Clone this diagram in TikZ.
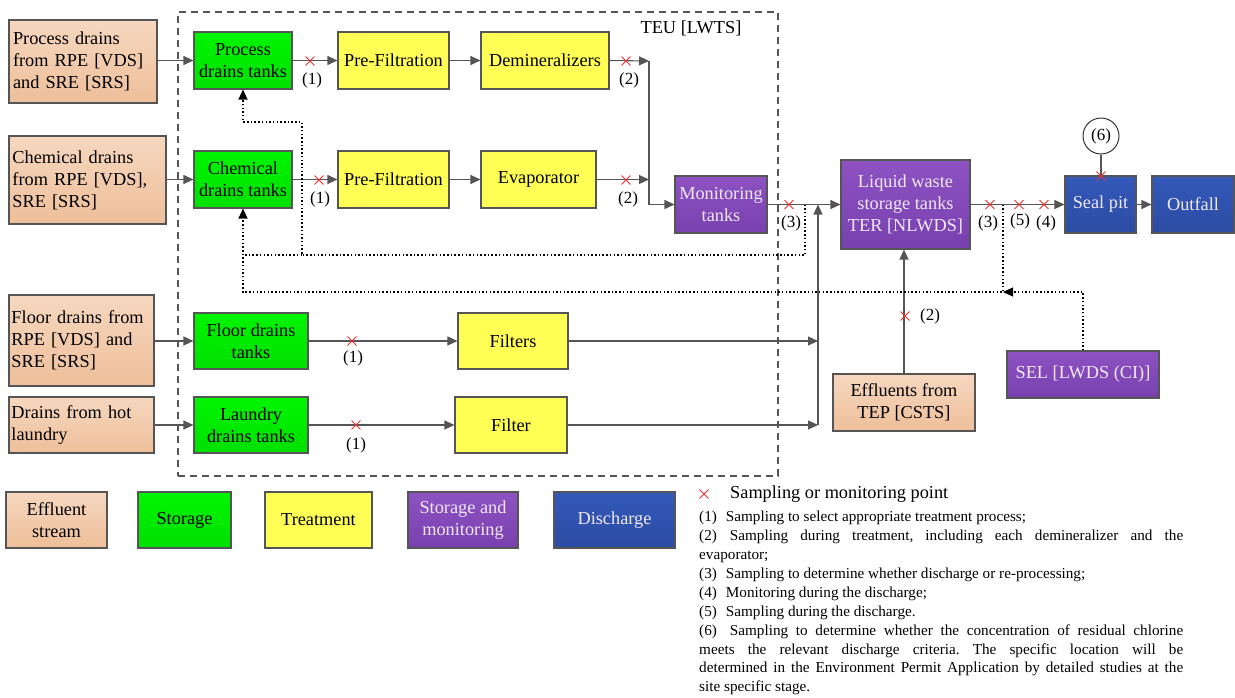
\documentclass[tikz,border=0pt]{standalone}
\usepackage{fontspec}
\setmainfont{Liberation Serif}
\usetikzlibrary{arrows.meta,shapes.misc,calc}
\definecolor{peachT}{HTML}{F6D7BF}
\definecolor{peachB}{HTML}{EEBF9A}
\definecolor{grnT}{HTML}{00F500}
\definecolor{grnB}{HTML}{00E000}
\definecolor{yel}{HTML}{FFFF55}
\definecolor{purT}{HTML}{8E52C2}
\definecolor{purB}{HTML}{7840AE}
\definecolor{bluT}{HTML}{3459BA}
\definecolor{bluB}{HTML}{2C4BA2}
\definecolor{edge}{HTML}{555555}
\definecolor{lav}{HTML}{EFE8F7}
\definecolor{xred}{HTML}{F03030}
\newcommand\mybox[7]{\node[#1, minimum width={#5-#3}, minimum height={#6-#4}] (#2) at ({(#3+#5)/2},{(#4+#6)/2}) {#7};}
\tikzset{
  x=1pt, y=-1pt,
  box/.style={draw=edge, line width=1.1pt, inner sep=2pt, align=center},
  src/.style={box, top color=peachT, bottom color=peachB},
  srcl/.style={src, align=left, text width=#1},
  stor/.style={box, top color=grnT, bottom color=grnB},
  treat/.style={box, fill=yel},
  mon/.style={box, top color=purT, bottom color=purB, text=lav},
  dis/.style={box, top color=bluT, bottom color=bluB, text=lav},
  arr/.style={draw=edge, line width=1.1pt, -{Triangle[length=10pt,width=9pt]}},
  ln/.style={draw=edge, line width=1.1pt},
  dot/.style={draw=black, line width=1.2pt, dash pattern=on 1.5pt off 2.2pt},
  dotarr/.style={dot, -{Triangle[length=10pt,width=9pt]}},
  xm/.style={draw=xred, cross out, minimum size=8pt, inner sep=0pt, line width=0.9pt},
  lbl/.style={inner sep=0pt, font=\fontsize{17}{20}\selectfont},
}
\begin{document}
\frenchspacing
\begin{tikzpicture}[font=\fontsize{18.3}{22}\selectfont]
\useasboundingbox (0,0) rectangle (1235,697);
% TEU frame
\node[draw=edge, line width=1.2pt, dash pattern=on 7pt off 5pt, minimum width=600, minimum height=464, inner sep=0pt] (teu) at (478,244) {};
\node[inner sep=0pt] (teulbl) at (691,28) {TEU [LWTS]};
% sources
\mybox{srcl=140pt}{s1}{9}{20}{157}{103}{Process drains\\from RPE [VDS]\\and SRE [SRS]}
\mybox{srcl=150pt}{s2}{9}{136}{166}{224}{Chemical drains\\from RPE [VDS],\\SRE [SRS]}
\mybox{srcl=140pt}{s3}{9}{295}{154}{386}{Floor drains from\\RPE [VDS] and\\SRE [SRS]}
\mybox{srcl=140pt}{s4}{9}{397}{154}{453}{Drains from hot\\laundry}
% storage
\mybox{stor}{pdt}{194}{32}{292}{89}{Process\\drains tanks}
\mybox{stor}{cdt}{194}{151}{292}{208}{Chemical\\drains tanks}
\mybox{stor}{fdt}{194}{313}{308}{369}{Floor drains\\tanks}
\mybox{stor}{ldt}{194}{397}{308}{453}{Laundry\\drains tanks}
% treatment
\mybox{treat}{pf1}{338}{32}{449}{89}{Pre-Filtration}
\mybox{treat}{dem}{481}{32}{609}{89}{Demineralizers}
\mybox{treat}{pf2}{338}{151}{449}{208}{Pre-Filtration}
\mybox{treat}{eva}{481}{151}{596}{208}{Evaporator}
\mybox{treat}{fil}{458}{313}{568}{369}{Filters}
\mybox{treat}{flt}{455}{397}{567}{453}{Filter}
% monitoring
\mybox{mon}{mtk}{675}{176}{767}{233}{Monitoring\\tanks}
\mybox{mon}{lws}{841}{160}{970}{249}{Liquid waste\\storage tanks\\TER [NLWDS]}
\mybox{mon}{sel}{1007}{351}{1159}{398}{SEL [LWDS (CI)]}
\mybox{src}{eff}{833}{374}{975}{431}{Effluents from\\TEP [CSTS]}
% discharge
\mybox{dis}{seal}{1065}{176}{1136}{233}{Seal pit}
\mybox{dis}{out}{1152}{176}{1234}{233}{Outfall}
\node[draw=black!80, line width=1pt, circle, minimum size=36pt, inner sep=0pt, font=\fontsize{17}{20}\selectfont] (c6) at (1101,136) {(6)};
% junctions
\coordinate (jm) at (649,61);
\coordinate (jf) at (818,204.5);
\coordinate (jf1) at (818,341);
\coordinate (jf2) at (818,425);
\coordinate (d1) at (805,204.5);
\coordinate (d1a) at (805,255);
\coordinate (d1b) at (302,255);
\coordinate (d1c) at (302,122);
\coordinate (d1d) at (243,122);
\coordinate (d1e) at (243,255);
\coordinate (d2) at (1003,204.5);
\coordinate (d2a) at (1003,292);
\coordinate (d2b) at (243,292);
% solid flows
\draw[arr] (pdt.west -| s1.east) -- (pdt.west);
\draw[arr] (cdt.west -| s2.east) -- (cdt.west);
\draw[arr] (fdt.west -| s3.east) -- (fdt.west);
\draw[arr] (ldt.west -| s4.east) -- (ldt.west);
\draw[arr] (pdt.east) -- (pf1.west);
\draw[arr] (pf1.east) -- (dem.west);
\draw[arr] (dem.east) -- (jm);
\draw[arr] (cdt.east) -- (pf2.west);
\draw[arr] (pf2.east) -- (eva.west);
\draw[arr] (eva.east) -- (eva.east -| jm);
\draw[arr] (jm) -- (jm |- mtk.west) -- (mtk.west);
\draw[arr] (mtk.east) -- (lws.west);
\draw[arr] (fdt.east) -- (fil.west);
\draw[arr] (ldt.east) -- (flt.west);
\draw[arr] (fil.east) -- (jf1);
\draw[arr] (flt.east) -- (jf2);
\draw[arr] (jf2) -- (jf);
\draw[arr] (eff.north) -- (eff.north |- lws.south);
\draw[arr] (lws.east) -- (seal.west);
\draw[arr] (seal.east) -- (out.west);
\draw[ln] (c6.south) -- (c6.south |- seal.north);
% dotted recirculation
\draw[dotarr] (d1) -- (d1a) -- (d1b) -- (d1c) -- (d1d) -- (pdt.south -| d1d);
\draw[dot] (d1b) -- (d1e);
\draw[dotarr] (d2) -- (d2a) -- (d2b) -- (cdt.south -| d2b);
\draw[dotarr] (sel.north) -- (sel.north |- d2a) -- (d2a);
% sampling points
\node[xm] (x1) at (310,61) {};
\node[lbl] (l1) at (312,80) {(1)};
\node[xm] (x2) at (319,180) {};
\node[lbl] (l2) at (320,199) {(1)};
\node[xm] (x3) at (626,61) {};
\node[lbl] (l3) at (629,80) {(2)};
\node[xm] (x4) at (626,180) {};
\node[lbl] (l4) at (628,199) {(2)};
\node[xm] (x5) at (789,204.5) {};
\node[lbl] (l5) at (791,223) {(3)};
\node[xm] (x6) at (352,341) {};
\node[lbl] (l6) at (353,358) {(1)};
\node[xm] (x7) at (356,425) {};
\node[lbl] (l7) at (356,445) {(1)};
\node[xm] (x8) at (905,316) {};
\node[lbl] (l8) at (930,316) {(2)};
\node[xm] (x9) at (990,204.5) {};
\node[lbl] (l9) at (988,223) {(3)};
\node[xm] (x10) at (1019,204.5) {};
\node[lbl] (l10) at (1020,221) {(5)};
\node[xm] (x11) at (1044,204.5) {};
\node[lbl] (l11) at (1046,223) {(4)};
\node[xm] (x12) at (1101,176) {};
% legend
\mybox{src}{g1}{6}{492}{107}{548}{Effluent\\stream}
\mybox{stor}{g2}{138}{492}{231}{548}{Storage}
\mybox{treat}{g3}{265}{492}{372}{548}{Treatment}
\mybox{mon}{g4}{408}{492}{518}{548}{Storage and\\monitoring}
\mybox{dis}{g5}{554}{492}{675}{548}{Discharge}
\node[xm] (xh) at (704,494) {};
\node[anchor=west, inner sep=0pt] (head) at (730,494) {Sampling or monitoring point};
\node[anchor=north west, inner sep=0pt, text width=484pt, align=justify, font=\fontsize{15.2}{18.9}\selectfont] (notes) at (699,511)
{(1)\hspace{9pt}Sampling to select appropriate treatment process;\\
(2)\hspace{13pt}Sampling during treatment, including each demineralizer and the\linebreak evaporator;\\
(3)\hspace{9pt}Sampling to determine whether discharge or re-processing;\\
(4)\hspace{9pt}Monitoring during the discharge;\\
(5)\hspace{9pt}Sampling during the discharge.\\
(6)\hspace{13pt}Sampling to determine whether the concentration of residual chlorine\linebreak meets the relevant discharge criteria. The specific location will be\linebreak determined in the Environment Permit Application by detailed studies at the\linebreak site specific stage.};
\end{tikzpicture}
\end{document}
